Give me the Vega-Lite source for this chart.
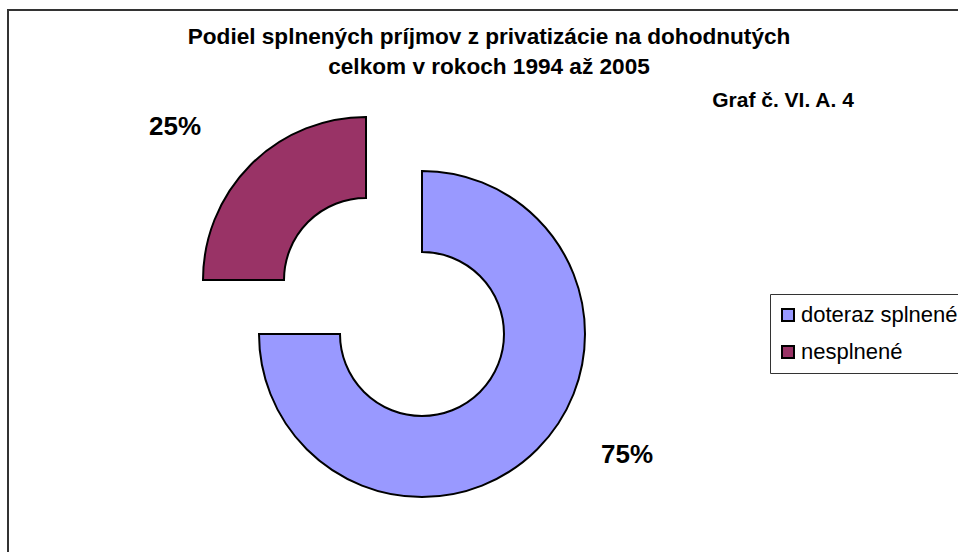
{
  "$schema": "https://vega.github.io/schema/vega-lite/v6.json",
  "width": 952,
  "height": 544,
  "autosize": {"type": "none"},
  "padding": {"left": 8, "top": 10, "right": -2, "bottom": -2},
  "background": "white",
  "config": {"view": {"stroke": null}, "font": "Liberation Sans"},
  "title": {
    "text": ["Podiel splnených príjmov z privatizácie na dohodnutých", "celkom v rokoch 1994 až 2005"],
    "anchor": "middle",
    "frame": "group",
    "offset": -87.5,
    "fontSize": 22.6,
    "fontWeight": "bold",
    "font": "Liberation Sans",
    "color": "black",
    "lineHeight": 30,
    "baseline": "alphabetic",
    "dx": 5
  },
  "data": {"values": [
    {"category": "doteraz splnené", "share": 0.75},
    {"category": "nesplnené", "share": 0.25}
  ]},
  "transform": [{"stack": "share", "groupby": [], "as": ["s0", "s1"]}],
  "layer": [
    {
      "data": {"values": [{"frame": "chart area"}]},
      "transform": [],
      "mark": {"type": "rect", "fill": null, "fillOpacity": 0, "stroke": "#333333", "strokeWidth": 2},
      "encoding": {}
    },
    {
      "transform": [{"filter": "datum.category === 'doteraz splnené'"}],
      "mark": {"type": "arc", "innerRadius": 82, "outerRadius": 163, "stroke": "black", "strokeWidth": 2, "xOffset": -62, "yOffset": 52},
      "encoding": {
        "theta": {"field": "s0", "type": "quantitative", "scale": {"domain": [0, 1]}},
        "theta2": {"field": "s1"},
        "color": {
          "field": "category", "type": "nominal",
          "scale": {"domain": ["doteraz splnené", "nesplnené"], "range": ["#9999FF", "#993366"]},
          "legend": {
            "orient": "none", "legendX": 762, "legendY": 284, "title": null,
            "symbolType": "square", "symbolSize": 144, "symbolStrokeColor": "black", "symbolStrokeWidth": 2,
            "symbolOpacity": 1, "symbolOffset": -3,
            "labelFontSize": 22, "labelFont": "Liberation Sans", "labelColor": "black",
            "padding": 10, "rowPadding": 15, "labelOffset": 2,
            "strokeColor": "#333333", "fillColor": "white"
          }
        }
      }
    },
    {
      "transform": [{"filter": "datum.category === 'nesplnené'"}],
      "mark": {"type": "arc", "innerRadius": 82, "outerRadius": 163, "stroke": "black", "strokeWidth": 2, "xOffset": -118, "yOffset": -2},
      "encoding": {
        "theta": {"field": "s0", "type": "quantitative", "scale": {"domain": [0, 1]}},
        "theta2": {"field": "s1"},
        "color": {"field": "category", "type": "nominal"}
      }
    },
    {
      "transform": [{"filter": "datum.category === 'nesplnené'"}],
      "mark": {"type": "text", "fontSize": 26, "fontWeight": "bold", "align": "center", "baseline": "middle", "color": "black", "xOffset": -309, "yOffset": -155},
      "encoding": {"text": {"field": "share", "type": "quantitative", "format": ".0%"}}
    },
    {
      "transform": [{"filter": "datum.category === 'doteraz splnené'"}],
      "mark": {"type": "text", "fontSize": 26, "fontWeight": "bold", "align": "center", "baseline": "middle", "color": "black", "xOffset": 143, "yOffset": 173},
      "encoding": {"text": {"field": "share", "type": "quantitative", "format": ".0%"}}
    },
    {
      "data": {"values": [{"note": "Graf č. VI. A. 4"}]},
      "transform": [],
      "mark": {"type": "text", "fontSize": 21, "fontWeight": "bold", "align": "center", "baseline": "alphabetic", "color": "black", "xOffset": 299, "yOffset": -175},
      "encoding": {"text": {"field": "note", "type": "nominal"}}
    }
  ]
}
